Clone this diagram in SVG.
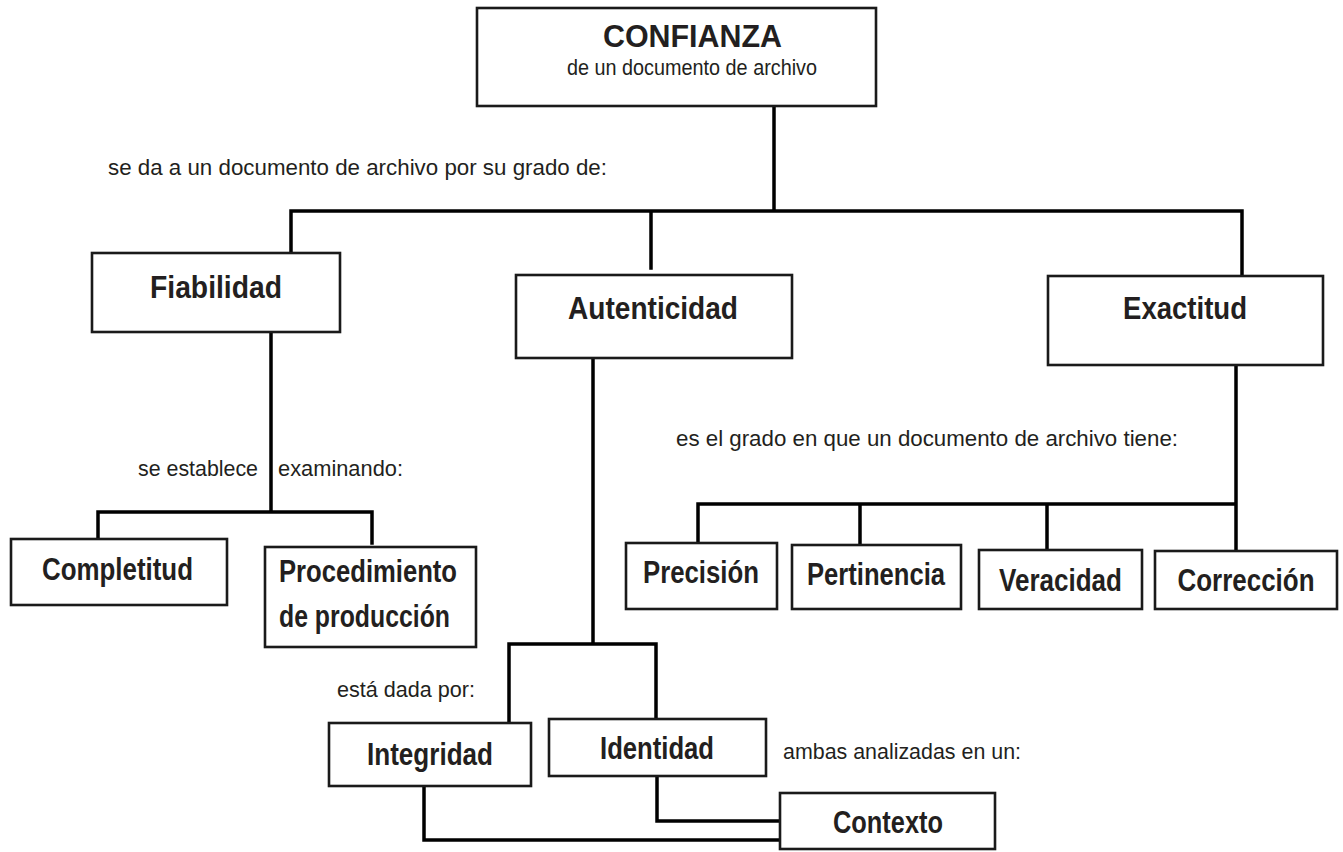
<svg xmlns="http://www.w3.org/2000/svg" width="1343" height="852" viewBox="0 0 1343 852">
<style>
.box{fill:#fff;stroke:#1a1a1a;stroke-width:2.6}
.c{fill:none;stroke:#000;stroke-width:3.5;stroke-linecap:square;stroke-linejoin:miter}
.b{font-family:"Liberation Sans",Arial,sans-serif;font-weight:bold;font-size:32px;fill:#231f20}
.t{font-family:"Liberation Sans",Arial,sans-serif;font-size:22px;fill:#231f20}
</style>
<rect width="1343" height="852" fill="#fff"/>
<g id="connectors">
<path class="c" d="M774 107V211M291 254V211H1242V275M651 211V268"/>
<path class="c" d="M271 334V512M98 537V512H372V543"/>
<path class="c" d="M593 359V644M509 722V644H656V718"/>
<path class="c" d="M1236 366V549M698 541V504H1236M860 543V504M1047 548V504"/>
<path class="c" d="M657 778V821H779M424 788V840H779"/>
</g>
<g id="labels">
<text class="t" x="108" y="175" textLength="499" lengthAdjust="spacingAndGlyphs">se da a un documento de archivo por su grado de:</text>
<text class="t" x="138" y="476" textLength="120" lengthAdjust="spacingAndGlyphs">se establece</text>
<text class="t" x="278" y="476" textLength="125" lengthAdjust="spacingAndGlyphs">examinando:</text>
<text class="t" x="676" y="446" textLength="502" lengthAdjust="spacingAndGlyphs">es el grado en que un documento de archivo tiene:</text>
<text class="t" x="337" y="697" textLength="138" lengthAdjust="spacingAndGlyphs">está dada por:</text>
<text class="t" x="783" y="759" textLength="238" lengthAdjust="spacingAndGlyphs">ambas analizadas en un:</text>
</g>
<g id="confianza">
<rect class="box" x="477" y="8" width="399" height="98"/>
<text class="b" x="603" y="47" font-size="30" textLength="179" lengthAdjust="spacingAndGlyphs">CONFIANZA</text>
<text class="t" x="567" y="75" font-size="19" textLength="250" lengthAdjust="spacingAndGlyphs">de un documento de archivo</text>
</g>
<g id="fiabilidad">
<rect class="box" x="92" y="253" width="248" height="79"/>
<text class="b" x="150" y="298" textLength="132" lengthAdjust="spacingAndGlyphs">Fiabilidad</text>
</g>
<g id="autenticidad">
<rect class="box" x="516" y="275" width="276" height="83"/>
<text class="b" x="568" y="319" textLength="170" lengthAdjust="spacingAndGlyphs">Autenticidad</text>
</g>
<g id="exactitud">
<rect class="box" x="1048" y="276" width="275" height="89"/>
<text class="b" x="1123" y="319" textLength="124" lengthAdjust="spacingAndGlyphs">Exactitud</text>
</g>
<g id="completitud">
<rect class="box" x="11" y="539" width="216" height="66"/>
<text class="b" x="42" y="580" textLength="151" lengthAdjust="spacingAndGlyphs">Completitud</text>
</g>
<g id="procedimiento">
<rect class="box" x="265" y="547" width="211" height="100"/>
<text class="b" x="279" y="582" textLength="178" lengthAdjust="spacingAndGlyphs">Procedimiento</text>
<text class="b" x="279" y="627" textLength="171" lengthAdjust="spacingAndGlyphs">de producción</text>
</g>
<g id="precision">
<rect class="box" x="626" y="543" width="151" height="66"/>
<text class="b" x="643" y="583" textLength="116" lengthAdjust="spacingAndGlyphs">Precisión</text>
</g>
<g id="pertinencia">
<rect class="box" x="792" y="545" width="169" height="64"/>
<text class="b" x="807" y="585" textLength="138" lengthAdjust="spacingAndGlyphs">Pertinencia</text>
</g>
<g id="veracidad">
<rect class="box" x="979" y="550" width="163" height="59"/>
<text class="b" x="999" y="591" textLength="123" lengthAdjust="spacingAndGlyphs">Veracidad</text>
</g>
<g id="correccion">
<rect class="box" x="1155" y="551" width="182" height="58"/>
<text class="b" x="1246" y="591" font-size="28" text-anchor="middle" textLength="137" lengthAdjust="spacingAndGlyphs">Corrección</text>
</g>
<g id="integridad">
<rect class="box" x="329" y="723" width="202" height="63"/>
<text class="b" x="367" y="765" textLength="126" lengthAdjust="spacingAndGlyphs">Integridad</text>
</g>
<g id="identidad">
<rect class="box" x="549" y="719" width="217" height="57"/>
<text class="b" x="600" y="759" textLength="114" lengthAdjust="spacingAndGlyphs">Identidad</text>
</g>
<g id="contexto">
<rect class="box" x="780" y="793" width="215" height="56"/>
<text class="b" x="833" y="833" textLength="110" lengthAdjust="spacingAndGlyphs">Contexto</text>
</g>
</svg>
